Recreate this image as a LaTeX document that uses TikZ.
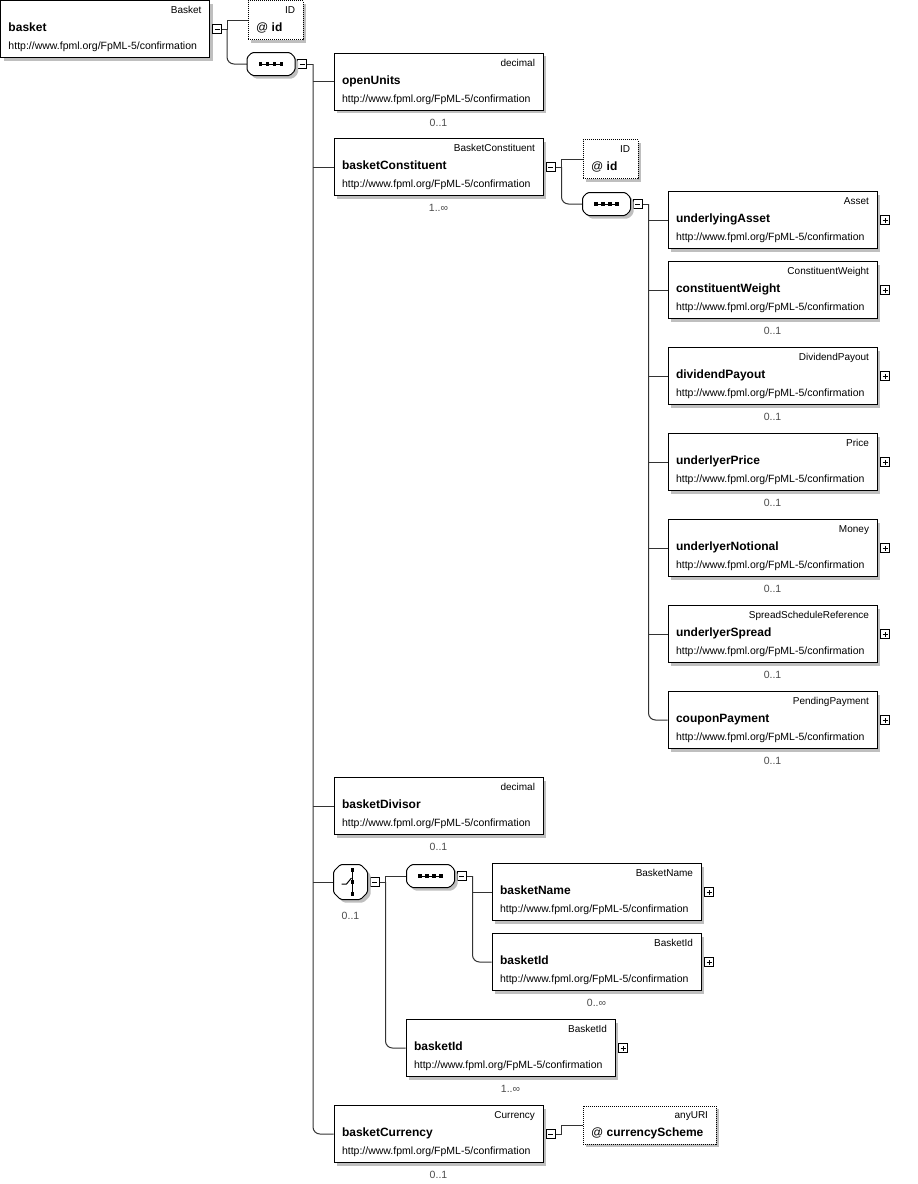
\documentclass[tikz,border=0pt]{standalone}
\usepackage{fontspec}
\setmainfont{Liberation Sans}
\usetikzlibrary{positioning,shadows}
\newcommand{\fpmlns}{http://www.fpml.org/FpML-5/confirmation}
\newcommand{\typ}[1]{\hspace*{\fill}{\fontsize{10}{12}\selectfont #1}}
\newcommand{\nam}[1]{{\fontsize{12}{14}\selectfont\bfseries #1}}

\begin{document}
\begin{tikzpicture}%
  [x=1pt,y=-1pt,line width=1pt]
  \tikzstyle{shadow box}=[general shadow={fill=black!25,shadow xshift=3pt,shadow yshift=-3pt}]
  \tikzstyle{elem node}=[draw,fill=white,shadow box,minimum width=209,minimum height=57,
    text width=193,inner sep=0,align=left,font=\fontsize{10.5}{18}\selectfont]
  \tikzstyle{attr node}=[draw,dash pattern=on 1pt off 1pt,fill=white,shadow box,minimum height=39,
    inner sep=0,align=left,font=\fontsize{10.5}{18}\selectfont]
  \tikzstyle{seq node}=[minimum width=47,minimum height=22,inner sep=0]
  \tikzstyle{choice node}=[minimum width=33,minimum height=34,inner sep=0]
  \tikzstyle{compositor}=[draw,fill=white,shadow box,rounded corners=1.5pt]
  \tikzstyle{minus node}=[draw,fill=white,minimum size=9,inner sep=0]
  \tikzstyle{plus node}=[draw,fill=white,minimum size=9,inner sep=0]
  \tikzstyle{occ node}=[inner sep=0,text=black!70,font=\fontsize{10.5}{12}\selectfont]
  \tikzstyle{conn}=[draw=black!80]

  \fill[white] (0,0) rectangle (918,1184);
  \useasboundingbox (0,0) rectangle (918,1184);

  % root
  \node (basket) [elem node] at (105,29) {\typ{Basket}\\\nam{basket}\\\fpmlns};
  \node (mRoot) [minus node] at ([xshift=7]basket.east) {};
  \node (idRoot) [attr node,minimum width=55,text width=39] at (275.5,20)
    {\typ{ID}\\{\fontsize{12}{14}\selectfont @ \bfseries id}};
  \node (seqA) [seq node] at (271,64) {};
  \node (mA) [minus node] at ([xshift=7]seqA.east) {};
  \coordinate (tRoot) at ([xshift=5]mRoot.east);
  \draw[conn] (mRoot.east) -- (tRoot) |- (idRoot.west);
  \draw[conn,rounded corners=7] (tRoot) |- (seqA.west);

  % first sequence
  \node (openUnits) [elem node] at (438.5,81.5) {\typ{decimal}\\\nam{openUnits}\\\fpmlns};
  \node (openUnits-occ) [occ node,below=8pt of openUnits] {0..1};
  \node (basketConstituent) [elem node] at (438.5,167) {\typ{BasketConstituent}\\\nam{basketConstituent}\\\fpmlns};
  \node (basketConstituent-occ) [occ node,below=8pt of basketConstituent] {1..∞};
  \node (basketDivisor) [elem node] at (438.5,806) {\typ{decimal}\\\nam{basketDivisor}\\\fpmlns};
  \node (basketDivisor-occ) [occ node,below=8pt of basketDivisor] {0..1};
  \node (choiceA) [choice node] at (350.5,882) {};
  \node (choiceA-occ) [occ node,below=12pt of choiceA] {0..1};
  \node (basketCurrency) [elem node] at (438.5,1134) {\typ{Currency}\\\nam{basketCurrency}\\\fpmlns};
  \node (basketCurrency-occ) [occ node,below=8pt of basketCurrency] {0..1};
  \coordinate (tA) at ([xshift=6]mA.east);
  \draw[conn] (mA.east) -- (tA);
  \foreach \nm in {openUnits,basketConstituent,basketDivisor,choiceA}
    \draw[conn] (tA |- \nm.west) -- (\nm.west);
  \draw[conn,rounded corners=7] (tA) |- (basketCurrency.west);

  % basketConstituent content
  \node (mB) [minus node] at ([xshift=7]basketConstituent.east) {};
  \node (idB) [attr node,minimum width=55,text width=39] at (610.5,159)
    {\typ{ID}\\{\fontsize{12}{14}\selectfont @ \bfseries id}};
  \node (seqB) [seq node] at (606.5,204) {};
  \node (mC) [minus node] at ([xshift=7]seqB.east) {};
  \coordinate (tB) at ([xshift=6]mB.east);
  \draw[conn] (mB.east) -- (tB) |- (idB.west);
  \draw[conn,rounded corners=7] (tB) |- (seqB.west);

  \node (underlyingAsset) [elem node] at (772.5,220) {\typ{Asset}\\\nam{underlyingAsset}\\\fpmlns};
  \node (underlyingAsset-plus) [plus node] at ([xshift=7.5]underlyingAsset.east) {};
  \foreach \nm/\ty/\yy in {constituentWeight/ConstituentWeight/290,dividendPayout/DividendPayout/376,
      underlyerPrice/Price/462,underlyerNotional/Money/548,
      underlyerSpread/SpreadScheduleReference/634,couponPayment/PendingPayment/720}{
    \node (\nm) [elem node] at (772.5,\yy) {\typ{\ty}\\\nam{\nm}\\\fpmlns};
    \node (\nm-plus) [plus node] at ([xshift=7.5]\nm.east) {};
    \node (\nm-occ) [occ node,below=8pt of \nm] {0..1};
  }
  \coordinate (tC) at ([xshift=6]mC.east);
  \draw[conn] (mC.east) -- (tC);
  \foreach \nm in {underlyingAsset,constituentWeight,dividendPayout,underlyerPrice,underlyerNotional,underlyerSpread}
    \draw[conn] (tC |- \nm.west) -- (\nm.west);
  \draw[conn,rounded corners=7] (tC) |- (couponPayment.west);

  % choice content
  \node (mD) [minus node] at ([xshift=7]choiceA.east) {};
  \node (seqC) [seq node] at (430.5,876) {};
  \node (mE) [minus node] at ([xshift=7]seqC.east) {};
  \node (basketName) [elem node] at (596.5,892) {\typ{BasketName}\\\nam{basketName}\\\fpmlns};
  \node (basketName-plus) [plus node] at ([xshift=7.5]basketName.east) {};
  \node (basketId) [elem node] at (596.5,962) {\typ{BasketId}\\\nam{basketId}\\\fpmlns};
  \node (basketId-plus) [plus node] at ([xshift=7.5]basketId.east) {};
  \node (basketId-occ) [occ node,below=8pt of basketId] {0..∞};
  \node (basketIdAlt) [elem node] at (510.5,1048) {\typ{BasketId}\\\nam{basketId}\\\fpmlns};
  \node (basketIdAlt-plus) [plus node] at ([xshift=7.5]basketIdAlt.east) {};
  \node (basketIdAlt-occ) [occ node,below=8pt of basketIdAlt] {1..∞};
  \coordinate (tD) at ([xshift=6]mD.east);
  \draw[conn] (mD.east) -- (tD) |- (seqC.west);
  \draw[conn,rounded corners=7] (tD) |- (basketIdAlt.west);
  \coordinate (tE) at ([xshift=6]mE.east);
  \draw[conn] (mE.east) -- (tE);
  \draw[conn] (tE |- basketName.west) -- (basketName.west);
  \draw[conn,rounded corners=7] (tE) |- (basketId.west);

  % currency attribute
  \node (mF) [minus node] at ([xshift=7]basketCurrency.east) {};
  \node (currencyScheme) [attr node,minimum width=133,minimum height=38,text width=117] at (649.5,1125)
    {\typ{anyURI}\\{\fontsize{12}{14}\selectfont @ \bfseries currencyScheme}};
  \coordinate (tF) at ([xshift=6]mF.east);
  \draw[conn] (mF.east) -- (tF) |- (currencyScheme.west);

  % compositor outlines (cut corners)
  \foreach \s/\c in {seqA/5,seqB/5,seqC/5,choiceA/7}
    \draw[compositor] ([xshift=\c pt]\s.north west) -- ([xshift=-\c pt]\s.north east)
      -- ([yshift=-\c pt]\s.north east) -- ([yshift=\c pt]\s.south east)
      -- ([xshift=-\c pt]\s.south east) -- ([xshift=\c pt]\s.south west)
      -- ([yshift=\c pt]\s.south west) -- ([yshift=-\c pt]\s.north west) -- cycle;

  % symbols inside the compositors and the expand boxes
  \foreach \s in {seqA,seqB,seqC}{
    \draw ([xshift=-11pt]\s.center) -- ([xshift=11pt]\s.center);
    \foreach \dx in {-10.5,-3.5,3.5,10.5}
      \fill ([xshift=\dx pt]\s.center) +(-1.8,-1.8) rectangle +(1.8,1.8);
  }
  \draw ([shift={(2,-12)}]choiceA.center) -- ([shift={(2,12)}]choiceA.center);
  \foreach \dy in {-12,0,12}
    \fill ([shift={(2,\dy)}]choiceA.center) +(-1.8,-1.8) rectangle +(1.8,1.8);
  \draw ([shift={(-9,2)}]choiceA.center) -- ([shift={(-4,2)}]choiceA.center) -- ([shift={(1,-4)}]choiceA.center);
  \foreach \m in {mRoot,mA,mB,mC,mD,mE,mF}
    \draw[line width=0.8pt] ([xshift=-2.5pt]\m.center) -- ([xshift=2.5pt]\m.center);
  \foreach \p in {underlyingAsset,constituentWeight,dividendPayout,underlyerPrice,underlyerNotional,
      underlyerSpread,couponPayment,basketName,basketId,basketIdAlt}{
    \draw[line width=0.8pt] ([xshift=-2.5pt]\p-plus.center) -- ([xshift=2.5pt]\p-plus.center);
    \draw[line width=0.8pt] ([yshift=-2.5pt]\p-plus.center) -- ([yshift=2.5pt]\p-plus.center);
  }
\end{tikzpicture}
\end{document}
